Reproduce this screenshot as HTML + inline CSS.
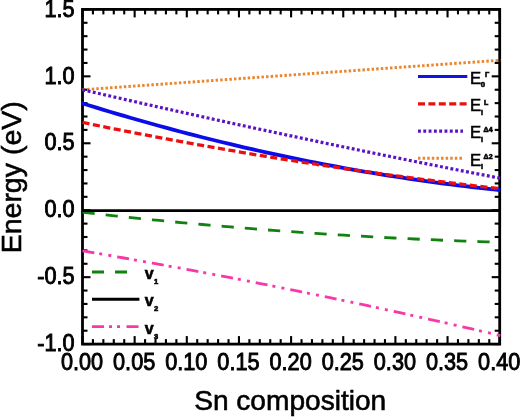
<!DOCTYPE html>
<html><head><meta charset="utf-8">
<style>
html,body{margin:0;padding:0;background:#fff;}
body{width:520px;height:417px;overflow:hidden;}
svg{display:block;filter:blur(0.45px);}
text{font-family:"Liberation Sans",sans-serif;fill:#000;stroke:#000;stroke-width:0.6;}
.tl text{font-size:21.7px;stroke-width:0.85;}
.tk line{stroke:#000;stroke-width:2.1;}
.c path,.c line{fill:none;}
</style></head><body>
<svg width="520" height="417" viewBox="0 0 520 417">
<rect x="0" y="0" width="520" height="417" fill="#fff"/>
<g class="tk">
<line x1="82.50" y1="344.1" x2="82.50" y2="336.1"/>
<line x1="82.50" y1="9.4" x2="82.50" y2="17.4"/>
<line x1="92.93" y1="344.1" x2="92.93" y2="339.1"/>
<line x1="92.93" y1="9.4" x2="92.93" y2="14.4"/>
<line x1="103.36" y1="344.1" x2="103.36" y2="339.1"/>
<line x1="103.36" y1="9.4" x2="103.36" y2="14.4"/>
<line x1="113.79" y1="344.1" x2="113.79" y2="339.1"/>
<line x1="113.79" y1="9.4" x2="113.79" y2="14.4"/>
<line x1="124.22" y1="344.1" x2="124.22" y2="339.1"/>
<line x1="124.22" y1="9.4" x2="124.22" y2="14.4"/>
<line x1="134.65" y1="344.1" x2="134.65" y2="336.1"/>
<line x1="134.65" y1="9.4" x2="134.65" y2="17.4"/>
<line x1="145.08" y1="344.1" x2="145.08" y2="339.1"/>
<line x1="145.08" y1="9.4" x2="145.08" y2="14.4"/>
<line x1="155.51" y1="344.1" x2="155.51" y2="339.1"/>
<line x1="155.51" y1="9.4" x2="155.51" y2="14.4"/>
<line x1="165.94" y1="344.1" x2="165.94" y2="339.1"/>
<line x1="165.94" y1="9.4" x2="165.94" y2="14.4"/>
<line x1="176.37" y1="344.1" x2="176.37" y2="339.1"/>
<line x1="176.37" y1="9.4" x2="176.37" y2="14.4"/>
<line x1="186.80" y1="344.1" x2="186.80" y2="336.1"/>
<line x1="186.80" y1="9.4" x2="186.80" y2="17.4"/>
<line x1="197.23" y1="344.1" x2="197.23" y2="339.1"/>
<line x1="197.23" y1="9.4" x2="197.23" y2="14.4"/>
<line x1="207.66" y1="344.1" x2="207.66" y2="339.1"/>
<line x1="207.66" y1="9.4" x2="207.66" y2="14.4"/>
<line x1="218.09" y1="344.1" x2="218.09" y2="339.1"/>
<line x1="218.09" y1="9.4" x2="218.09" y2="14.4"/>
<line x1="228.52" y1="344.1" x2="228.52" y2="339.1"/>
<line x1="228.52" y1="9.4" x2="228.52" y2="14.4"/>
<line x1="238.95" y1="344.1" x2="238.95" y2="336.1"/>
<line x1="238.95" y1="9.4" x2="238.95" y2="17.4"/>
<line x1="249.38" y1="344.1" x2="249.38" y2="339.1"/>
<line x1="249.38" y1="9.4" x2="249.38" y2="14.4"/>
<line x1="259.81" y1="344.1" x2="259.81" y2="339.1"/>
<line x1="259.81" y1="9.4" x2="259.81" y2="14.4"/>
<line x1="270.24" y1="344.1" x2="270.24" y2="339.1"/>
<line x1="270.24" y1="9.4" x2="270.24" y2="14.4"/>
<line x1="280.67" y1="344.1" x2="280.67" y2="339.1"/>
<line x1="280.67" y1="9.4" x2="280.67" y2="14.4"/>
<line x1="291.10" y1="344.1" x2="291.10" y2="336.1"/>
<line x1="291.10" y1="9.4" x2="291.10" y2="17.4"/>
<line x1="301.53" y1="344.1" x2="301.53" y2="339.1"/>
<line x1="301.53" y1="9.4" x2="301.53" y2="14.4"/>
<line x1="311.96" y1="344.1" x2="311.96" y2="339.1"/>
<line x1="311.96" y1="9.4" x2="311.96" y2="14.4"/>
<line x1="322.39" y1="344.1" x2="322.39" y2="339.1"/>
<line x1="322.39" y1="9.4" x2="322.39" y2="14.4"/>
<line x1="332.82" y1="344.1" x2="332.82" y2="339.1"/>
<line x1="332.82" y1="9.4" x2="332.82" y2="14.4"/>
<line x1="343.25" y1="344.1" x2="343.25" y2="336.1"/>
<line x1="343.25" y1="9.4" x2="343.25" y2="17.4"/>
<line x1="353.68" y1="344.1" x2="353.68" y2="339.1"/>
<line x1="353.68" y1="9.4" x2="353.68" y2="14.4"/>
<line x1="364.11" y1="344.1" x2="364.11" y2="339.1"/>
<line x1="364.11" y1="9.4" x2="364.11" y2="14.4"/>
<line x1="374.54" y1="344.1" x2="374.54" y2="339.1"/>
<line x1="374.54" y1="9.4" x2="374.54" y2="14.4"/>
<line x1="384.97" y1="344.1" x2="384.97" y2="339.1"/>
<line x1="384.97" y1="9.4" x2="384.97" y2="14.4"/>
<line x1="395.40" y1="344.1" x2="395.40" y2="336.1"/>
<line x1="395.40" y1="9.4" x2="395.40" y2="17.4"/>
<line x1="405.83" y1="344.1" x2="405.83" y2="339.1"/>
<line x1="405.83" y1="9.4" x2="405.83" y2="14.4"/>
<line x1="416.26" y1="344.1" x2="416.26" y2="339.1"/>
<line x1="416.26" y1="9.4" x2="416.26" y2="14.4"/>
<line x1="426.69" y1="344.1" x2="426.69" y2="339.1"/>
<line x1="426.69" y1="9.4" x2="426.69" y2="14.4"/>
<line x1="437.12" y1="344.1" x2="437.12" y2="339.1"/>
<line x1="437.12" y1="9.4" x2="437.12" y2="14.4"/>
<line x1="447.55" y1="344.1" x2="447.55" y2="336.1"/>
<line x1="447.55" y1="9.4" x2="447.55" y2="17.4"/>
<line x1="457.98" y1="344.1" x2="457.98" y2="339.1"/>
<line x1="457.98" y1="9.4" x2="457.98" y2="14.4"/>
<line x1="468.41" y1="344.1" x2="468.41" y2="339.1"/>
<line x1="468.41" y1="9.4" x2="468.41" y2="14.4"/>
<line x1="478.84" y1="344.1" x2="478.84" y2="339.1"/>
<line x1="478.84" y1="9.4" x2="478.84" y2="14.4"/>
<line x1="489.27" y1="344.1" x2="489.27" y2="339.1"/>
<line x1="489.27" y1="9.4" x2="489.27" y2="14.4"/>
<line x1="499.70" y1="344.1" x2="499.70" y2="336.1"/>
<line x1="499.70" y1="9.4" x2="499.70" y2="17.4"/>
<line x1="82.5" y1="344.10" x2="90.5" y2="344.10"/>
<line x1="499.7" y1="344.10" x2="491.7" y2="344.10"/>
<line x1="82.5" y1="330.71" x2="87.5" y2="330.71"/>
<line x1="499.7" y1="330.71" x2="494.7" y2="330.71"/>
<line x1="82.5" y1="317.32" x2="87.5" y2="317.32"/>
<line x1="499.7" y1="317.32" x2="494.7" y2="317.32"/>
<line x1="82.5" y1="303.94" x2="87.5" y2="303.94"/>
<line x1="499.7" y1="303.94" x2="494.7" y2="303.94"/>
<line x1="82.5" y1="290.55" x2="87.5" y2="290.55"/>
<line x1="499.7" y1="290.55" x2="494.7" y2="290.55"/>
<line x1="82.5" y1="277.16" x2="90.5" y2="277.16"/>
<line x1="499.7" y1="277.16" x2="491.7" y2="277.16"/>
<line x1="82.5" y1="263.77" x2="87.5" y2="263.77"/>
<line x1="499.7" y1="263.77" x2="494.7" y2="263.77"/>
<line x1="82.5" y1="250.38" x2="87.5" y2="250.38"/>
<line x1="499.7" y1="250.38" x2="494.7" y2="250.38"/>
<line x1="82.5" y1="237.00" x2="87.5" y2="237.00"/>
<line x1="499.7" y1="237.00" x2="494.7" y2="237.00"/>
<line x1="82.5" y1="223.61" x2="87.5" y2="223.61"/>
<line x1="499.7" y1="223.61" x2="494.7" y2="223.61"/>
<line x1="82.5" y1="210.22" x2="90.5" y2="210.22"/>
<line x1="499.7" y1="210.22" x2="491.7" y2="210.22"/>
<line x1="82.5" y1="196.83" x2="87.5" y2="196.83"/>
<line x1="499.7" y1="196.83" x2="494.7" y2="196.83"/>
<line x1="82.5" y1="183.44" x2="87.5" y2="183.44"/>
<line x1="499.7" y1="183.44" x2="494.7" y2="183.44"/>
<line x1="82.5" y1="170.06" x2="87.5" y2="170.06"/>
<line x1="499.7" y1="170.06" x2="494.7" y2="170.06"/>
<line x1="82.5" y1="156.67" x2="87.5" y2="156.67"/>
<line x1="499.7" y1="156.67" x2="494.7" y2="156.67"/>
<line x1="82.5" y1="143.28" x2="90.5" y2="143.28"/>
<line x1="499.7" y1="143.28" x2="491.7" y2="143.28"/>
<line x1="82.5" y1="129.89" x2="87.5" y2="129.89"/>
<line x1="499.7" y1="129.89" x2="494.7" y2="129.89"/>
<line x1="82.5" y1="116.50" x2="87.5" y2="116.50"/>
<line x1="499.7" y1="116.50" x2="494.7" y2="116.50"/>
<line x1="82.5" y1="103.12" x2="87.5" y2="103.12"/>
<line x1="499.7" y1="103.12" x2="494.7" y2="103.12"/>
<line x1="82.5" y1="89.73" x2="87.5" y2="89.73"/>
<line x1="499.7" y1="89.73" x2="494.7" y2="89.73"/>
<line x1="82.5" y1="76.34" x2="90.5" y2="76.34"/>
<line x1="499.7" y1="76.34" x2="491.7" y2="76.34"/>
<line x1="82.5" y1="62.95" x2="87.5" y2="62.95"/>
<line x1="499.7" y1="62.95" x2="494.7" y2="62.95"/>
<line x1="82.5" y1="49.56" x2="87.5" y2="49.56"/>
<line x1="499.7" y1="49.56" x2="494.7" y2="49.56"/>
<line x1="82.5" y1="36.18" x2="87.5" y2="36.18"/>
<line x1="499.7" y1="36.18" x2="494.7" y2="36.18"/>
<line x1="82.5" y1="22.79" x2="87.5" y2="22.79"/>
<line x1="499.7" y1="22.79" x2="494.7" y2="22.79"/>
<line x1="82.5" y1="9.40" x2="90.5" y2="9.40"/>
<line x1="499.7" y1="9.40" x2="491.7" y2="9.40"/>
</g>
<rect x="82.5" y="9.4" width="417.20" height="334.70" fill="none" stroke="#000" stroke-width="2.8"/>
<g class="c">
<path d="M81.46,89.80 L88.56,89.30 L95.66,88.80 L102.76,88.30 L109.85,87.80 L116.95,87.30 L124.05,86.79 L131.15,86.29 L138.25,85.79 L145.35,85.29 L152.45,84.79 L159.55,84.29 L166.65,83.79 L173.75,83.29 L180.85,82.78 L187.95,82.28 L195.05,81.78 L202.15,81.28 L209.25,80.78 L216.35,80.28 L223.45,79.78 L230.55,79.28 L237.65,78.78 L244.74,78.27 L251.84,77.77 L258.94,77.27 L266.04,76.77 L273.14,76.27 L280.24,75.77 L287.34,75.27 L294.44,74.77 L301.54,74.26 L308.64,73.76 L315.74,73.26 L322.84,72.76 L329.94,72.26 L337.04,71.76 L344.14,71.26 L351.24,70.76 L358.34,70.25 L365.44,69.75 L372.54,69.25 L379.63,68.75 L386.73,68.25 L393.83,67.75 L400.93,67.25 L408.03,66.75 L415.13,66.24 L422.23,65.74 L429.33,65.24 L436.43,64.74 L443.53,64.24 L450.63,63.74 L457.73,63.24 L464.83,62.74 L471.93,62.24 L479.03,61.73 L486.13,61.23 L493.23,60.73 L500.33,60.23" stroke="#ea862e" stroke-width="2.9" stroke-dasharray="2.5 2.1" stroke-dashoffset="-1.05"/>
<path d="M81.46,89.49 L88.56,91.13 L95.66,92.76 L102.76,94.39 L109.85,96.01 L116.95,97.63 L124.05,99.25 L131.15,100.86 L138.25,102.47 L145.35,104.07 L152.45,105.67 L159.55,107.26 L166.65,108.85 L173.75,110.43 L180.85,112.01 L187.95,113.58 L195.05,115.15 L202.15,116.72 L209.25,118.28 L216.35,119.83 L223.45,121.38 L230.55,122.93 L237.65,124.47 L244.74,126.01 L251.84,127.54 L258.94,129.07 L266.04,130.59 L273.14,132.11 L280.24,133.62 L287.34,135.13 L294.44,136.63 L301.54,138.13 L308.64,139.63 L315.74,141.12 L322.84,142.61 L329.94,144.09 L337.04,145.56 L344.14,147.04 L351.24,148.50 L358.34,149.97 L365.44,151.43 L372.54,152.88 L379.63,154.33 L386.73,155.77 L393.83,157.21 L400.93,158.65 L408.03,160.08 L415.13,161.50 L422.23,162.92 L429.33,164.34 L436.43,165.75 L443.53,167.16 L450.63,168.56 L457.73,169.96 L464.83,171.35 L471.93,172.74 L479.03,174.13 L486.13,175.51 L493.23,176.88 L500.33,178.25" stroke="#5a12c4" stroke-width="3.2" stroke-dasharray="2.9 2.4" stroke-dashoffset="-1.05"/>
<path d="M81.46,102.99 L88.56,105.21 L95.66,107.40 L102.76,109.57 L109.85,111.71 L116.95,113.83 L124.05,115.92 L131.15,117.98 L138.25,120.02 L145.35,122.04 L152.45,124.02 L159.55,125.99 L166.65,127.92 L173.75,129.83 L180.85,131.72 L187.95,133.58 L195.05,135.41 L202.15,137.22 L209.25,139.01 L216.35,140.77 L223.45,142.50 L230.55,144.20 L237.65,145.88 L244.74,147.54 L251.84,149.17 L258.94,150.77 L266.04,152.35 L273.14,153.91 L280.24,155.43 L287.34,156.94 L294.44,158.41 L301.54,159.86 L308.64,161.29 L315.74,162.69 L322.84,164.06 L329.94,165.41 L337.04,166.73 L344.14,168.03 L351.24,169.30 L358.34,170.54 L365.44,171.77 L372.54,172.96 L379.63,174.13 L386.73,175.27 L393.83,176.39 L400.93,177.48 L408.03,178.55 L415.13,179.59 L422.23,180.60 L429.33,181.59 L436.43,182.56 L443.53,183.50 L450.63,184.41 L457.73,185.30 L464.83,186.16 L471.93,187.00 L479.03,187.81 L486.13,188.59 L493.23,189.35 L500.33,190.08" stroke="#0c0ce8" stroke-width="3.8"/>
<path d="M81.46,122.27 L88.56,123.73 L95.66,125.17 L102.76,126.59 L109.85,128.01 L116.95,129.42 L124.05,130.81 L131.15,132.20 L138.25,133.57 L145.35,134.93 L152.45,136.28 L159.55,137.62 L166.65,138.95 L173.75,140.26 L180.85,141.57 L187.95,142.86 L195.05,144.15 L202.15,145.42 L209.25,146.68 L216.35,147.93 L223.45,149.17 L230.55,150.39 L237.65,151.61 L244.74,152.81 L251.84,154.01 L258.94,155.19 L266.04,156.36 L273.14,157.52 L280.24,158.67 L287.34,159.81 L294.44,160.93 L301.54,162.05 L308.64,163.15 L315.74,164.24 L322.84,165.33 L329.94,166.40 L337.04,167.46 L344.14,168.50 L351.24,169.54 L358.34,170.57 L365.44,171.58 L372.54,172.58 L379.63,173.58 L386.73,174.56 L393.83,175.53 L400.93,176.48 L408.03,177.43 L415.13,178.37 L422.23,179.29 L429.33,180.21 L436.43,181.11 L443.53,182.00 L450.63,182.88 L457.73,183.75 L464.83,184.61 L471.93,185.45 L479.03,186.29 L486.13,187.11 L493.23,187.92 L500.33,188.73" stroke="#ea1010" stroke-width="3.3" stroke-dasharray="7.1 3.507" stroke-dashoffset="-1.05"/>
<path d="M81.46,212.12 L88.56,212.93 L95.66,213.73 L102.76,214.52 L109.85,215.30 L116.95,216.07 L124.05,216.83 L131.15,217.58 L138.25,218.32 L145.35,219.05 L152.45,219.77 L159.55,220.47 L166.65,221.17 L173.75,221.86 L180.85,222.53 L187.95,223.20 L195.05,223.85 L202.15,224.50 L209.25,225.13 L216.35,225.76 L223.45,226.37 L230.55,226.97 L237.65,227.57 L244.74,228.15 L251.84,228.72 L258.94,229.29 L266.04,229.84 L273.14,230.38 L280.24,230.91 L287.34,231.43 L294.44,231.94 L301.54,232.44 L308.64,232.93 L315.74,233.41 L322.84,233.88 L329.94,234.33 L337.04,234.78 L344.14,235.22 L351.24,235.65 L358.34,236.06 L365.44,236.47 L372.54,236.86 L379.63,237.25 L386.73,237.62 L393.83,237.99 L400.93,238.34 L408.03,238.69 L415.13,239.02 L422.23,239.34 L429.33,239.66 L436.43,239.96 L443.53,240.25 L450.63,240.53 L457.73,240.80 L464.83,241.06 L471.93,241.32 L479.03,241.56 L486.13,241.79 L493.23,242.00 L500.33,242.21" stroke="#118211" stroke-width="2.8" stroke-dasharray="12.2 11.1" stroke-dashoffset="-1.05"/>
<path d="M81.46,250.61 L88.56,251.82 L95.66,253.04 L102.76,254.27 L109.85,255.50 L116.95,256.75 L124.05,258.00 L131.15,259.26 L138.25,260.52 L145.35,261.80 L152.45,263.08 L159.55,264.37 L166.65,265.67 L173.75,266.98 L180.85,268.29 L187.95,269.61 L195.05,270.94 L202.15,272.28 L209.25,273.63 L216.35,274.98 L223.45,276.34 L230.55,277.71 L237.65,279.09 L244.74,280.47 L251.84,281.87 L258.94,283.27 L266.04,284.68 L273.14,286.09 L280.24,287.52 L287.34,288.95 L294.44,290.39 L301.54,291.84 L308.64,293.30 L315.74,294.76 L322.84,296.23 L329.94,297.71 L337.04,299.20 L344.14,300.70 L351.24,302.20 L358.34,303.71 L365.44,305.23 L372.54,306.76 L379.63,308.30 L386.73,309.84 L393.83,311.39 L400.93,312.95 L408.03,314.52 L415.13,316.09 L422.23,317.67 L429.33,319.26 L436.43,320.86 L443.53,322.47 L450.63,324.08 L457.73,325.71 L464.83,327.34 L471.93,328.98 L479.03,330.62 L486.13,332.27 L493.23,333.94 L500.33,335.61" stroke="#f838a8" stroke-width="2.8" stroke-dasharray="12 5 3 6.2 3 6.03" stroke-dashoffset="-1.05"/>
<line x1="82.5" y1="210.62" x2="499.7" y2="210.62" stroke="#000" stroke-width="2.6"/>
</g>
<g class="tl">
<text transform="translate(82.00,369.6) scale(1,1.11)" text-anchor="middle">0.00</text>
<text transform="translate(134.15,369.6) scale(1,1.11)" text-anchor="middle">0.05</text>
<text transform="translate(186.30,369.6) scale(1,1.11)" text-anchor="middle">0.10</text>
<text transform="translate(238.45,369.6) scale(1,1.11)" text-anchor="middle">0.15</text>
<text transform="translate(290.60,369.6) scale(1,1.11)" text-anchor="middle">0.20</text>
<text transform="translate(342.75,369.6) scale(1,1.11)" text-anchor="middle">0.25</text>
<text transform="translate(394.90,369.6) scale(1,1.11)" text-anchor="middle">0.30</text>
<text transform="translate(447.05,369.6) scale(1,1.11)" text-anchor="middle">0.35</text>
<text transform="translate(499.20,369.6) scale(1,1.11)" text-anchor="middle">0.40</text>
<text transform="translate(74.6,16.60) scale(1,1.11)" text-anchor="end">1.5</text>
<text transform="translate(74.6,83.54) scale(1,1.11)" text-anchor="end">1.0</text>
<text transform="translate(74.6,150.48) scale(1,1.11)" text-anchor="end">0.5</text>
<text transform="translate(74.6,217.42) scale(1,1.11)" text-anchor="end">0.0</text>
<text transform="translate(74.6,284.36) scale(1,1.11)" text-anchor="end">-0.5</text>
<text transform="translate(74.6,351.30) scale(1,1.11)" text-anchor="end">-1.0</text>
</g>
<text x="290.2" y="409.9" text-anchor="middle" font-size="28.1" stroke-width="0.8">Sn composition</text>
<text transform="translate(20.6,177.3) rotate(-90)" text-anchor="middle" font-size="28.5" stroke-width="0.8">Energy (eV)</text>
<!-- legend top right -->
<g class="c">
<line x1="418" y1="76.4" x2="467.3" y2="76.4" stroke="#1212e6" stroke-width="3"/>
<line x1="418" y1="103.8" x2="467.3" y2="103.8" stroke="#ea1010" stroke-width="3.3" stroke-dasharray="7 3.4"/>
<line x1="418" y1="131.2" x2="463" y2="131.2" stroke="#5a12c4" stroke-width="3.2" stroke-dasharray="2.9 2.4"/>
<line x1="418" y1="158.2" x2="463" y2="158.2" stroke="#ea862e" stroke-width="2.9" stroke-dasharray="2.5 2.1"/>
</g>
<g font-size="16.7">
<text x="470" y="83.5">E</text>
<text x="470" y="110.5">E</text>
<text x="470" y="138">E</text>
<text x="470" y="165.5">E</text>
</g>
<g font-size="7" font-weight="bold">
<text x="480.8" y="87.3" font-size="7.8">0</text>
<text x="485" y="77.2">&#915;</text>
<text x="481" y="115">i</text>
<text x="484" y="104.6">L</text>
<text x="481" y="142.3">i</text>
<text x="483.6" y="132">&#916;4</text>
<text x="481" y="169.3">i</text>
<text x="483.6" y="159">&#916;2</text>
</g>
<!-- legend bottom left -->
<g class="c">
<line x1="92" y1="272" x2="128" y2="272" stroke="#118211" stroke-width="2.8" stroke-dasharray="12 11"/>
<line x1="92" y1="299.3" x2="139.4" y2="299.3" stroke="#000" stroke-width="3"/>
<line x1="92" y1="326.7" x2="138.5" y2="326.7" stroke="#f838a8" stroke-width="2.8" stroke-dasharray="12 5 3 5 3 6.5"/>
</g>
<g font-size="16" font-weight="bold" stroke-width="0.2">
<text x="144.7" y="279">v</text>
<text x="144.7" y="306.4">v</text>
<text x="144.7" y="333.8">v</text>
</g>
<g font-size="7" font-weight="bold">
<text x="154" y="283.8" font-size="7.6">1</text>
<text x="154" y="311.2" font-size="7.6">2</text>
<text x="154" y="338.6" font-size="7.6">3</text>
</g>
</svg>
</body></html>
